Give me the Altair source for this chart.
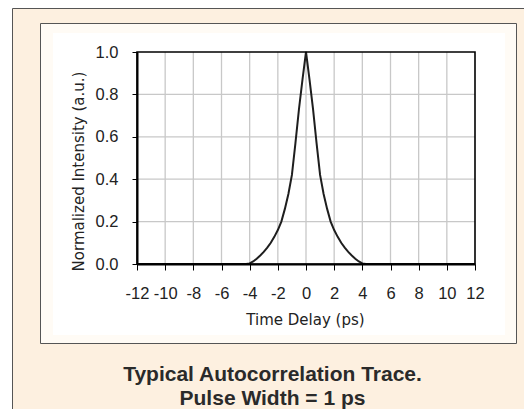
import altair as alt
import pandas as pd

# ---- data ----
TIME_PS = [-12, -4.25, -4.0, -3.75, -3.5, -3.25, -3.0, -2.75, -2.5, -2.25, -2.0, -1.75, -1.5,
           -1.25, -1.0, -0.75, -0.5, -0.25, 0.0, 0.25, 0.5, 0.75, 1.0, 1.25, 1.5,
           1.75, 2.0, 2.25, 2.5, 2.75, 3.0, 3.25, 3.5, 3.75, 4.0, 4.25, 12]
INTENSITY = [0.0, 0.0, 0.003, 0.012, 0.025, 0.040, 0.057, 0.077, 0.10, 0.128, 0.16, 0.20, 0.26,
             0.33, 0.42, 0.57, 0.73, 0.87, 1.0, 0.87, 0.73, 0.57, 0.42, 0.33, 0.26,
             0.20, 0.16, 0.128, 0.10, 0.077, 0.057, 0.040, 0.025, 0.012, 0.003, 0.0, 0.0]
X_TICKS = [-12, -10, -8, -6, -4, -2, 0, 2, 4, 6, 8, 10, 12]
Y_TICKS = [0.0, 0.2, 0.4, 0.6, 0.8, 1.0]
X_GRID = [-10, -8, -6, -4, -2, 0, 2, 4, 6, 8, 10]
Y_GRID = [0.2, 0.4, 0.6, 0.8]
X_TITLE = "Time Delay (ps)"
Y_TITLE = "Normalized Intensity (a.u.)"
TITLE_LINE_1 = "Typical Autocorrelation Trace."
TITLE_LINE_2 = "Pulse Width = 1 ps"

W, H = 338, 212
LABEL_FONT = "Liberation Sans"
TITLE_FONT = "DejaVu Sans"

curve_df = pd.DataFrame({"t": TIME_PS, "i": INTENSITY})
xgrid_df = pd.DataFrame({"t": X_GRID})
ygrid_df = pd.DataFrame({"i": Y_GRID})
one = alt.Data(values=[{"k": 1}])

xscale = alt.Scale(domain=[-12, 12], nice=False, zero=False)
yscale = alt.Scale(domain=[0, 1], nice=False)

x_axis = alt.Axis(
    values=X_TICKS, grid=False, zindex=1,
    labelExpr="datum.value < 0 ? '-' + abs(datum.value) : '' + datum.value",
    labelFont=LABEL_FONT, labelFontSize=16.5, labelColor="#222222", labelPadding=15,
    tickSize=6,
    title=X_TITLE, titleX=168, titleY=60, titleBaseline="alphabetic", titleAlign="center",
)
y_axis = alt.Axis(
    values=Y_TICKS, format=".1f", grid=False, zindex=1,
    labelFont=LABEL_FONT, labelFontSize=16.5, labelColor="#222222", labelPadding=14,
    tickSize=5,
    title=Y_TITLE, titleX=-54, titleY=119, titleAngle=270,
    titleBaseline="alphabetic", titleAlign="center",
)

bg_outer = alt.Chart(one).mark_rect(
    fill="#fdf0e0", stroke="#555555", strokeWidth=1, clip=False
).encode(x=alt.value(-124.5), x2=alt.value(700), y=alt.value(-43.5), y2=alt.value(600))

bg_inner = alt.Chart(one).mark_rect(
    fill="#fffbf5", stroke="#555555", strokeWidth=1, clip=False
).encode(x=alt.value(-96.5), x2=alt.value(379.5), y=alt.value(-28.5), y2=alt.value(291.5))

bg_white = alt.Chart(one).mark_rect(fill="#ffffff", clip=False).encode(
    x=alt.value(-84), x2=alt.value(368), y=alt.value(-19), y2=alt.value(283)
)

vgrid = alt.Chart(xgrid_df).mark_rule(color="#c8c8c8", strokeWidth=1.3).encode(
    x=alt.X("t:Q", scale=xscale, axis=x_axis), y=alt.value(0), y2=alt.value(H)
)
hgrid = alt.Chart(ygrid_df).mark_rule(color="#c8c8c8", strokeWidth=1.3).encode(
    y=alt.Y("i:Q", scale=yscale, axis=y_axis), x=alt.value(0), x2=alt.value(W)
)

curve = alt.Chart(curve_df).mark_line(color="#1e1e1e", strokeWidth=2, clip=False).encode(
    x=alt.X("t:Q", scale=xscale, axis=x_axis),
    y=alt.Y("i:Q", scale=yscale, axis=y_axis),
    order=alt.Order("t:Q"),
)

frame = alt.Chart(one).mark_rect(
    fill="transparent", stroke="#000000", strokeWidth=1.6, clip=False
).encode(x=alt.value(0), x2=alt.value(W), y=alt.value(0), y2=alt.value(H))

title1 = alt.Chart(alt.Data(values=[{"txt": TITLE_LINE_1}])).mark_text(
    font=LABEL_FONT, fontSize=21, fontWeight="bold", color="#2a2a2a",
    align="center", baseline="alphabetic", clip=False
).encode(text="txt:N", x=alt.value(135.5), y=alt.value(328.5))

title2 = alt.Chart(alt.Data(values=[{"txt": TITLE_LINE_2}])).mark_text(
    font=LABEL_FONT, fontSize=21, fontWeight="bold", color="#2a2a2a",
    align="center", baseline="alphabetic", clip=False
).encode(text="txt:N", x=alt.value(135.5), y=alt.value(352.5))

chart = alt.layer(
    bg_outer, bg_inner, bg_white, vgrid, hgrid, curve, frame, title1, title2
).properties(
    width=W, height=H,
    autosize=alt.AutoSizeParams(type="none"),
    padding={"left": 129, "top": 44, "right": 49, "bottom": 145},
    background="#ffffff",
).configure_view(
    strokeWidth=0
).configure_axis(
    labelFont=LABEL_FONT, labelFontSize=16.5, labelColor="#222222",
    domainColor="#000000", domainWidth=2, tickColor="#000000", tickWidth=1,
    titleFont=TITLE_FONT, titleFontSize=15, titleFontWeight="normal", titleColor="#222222",
    labelFlush=False, labelOverlap=False,
)

chart.save("out.html", embed_options={"renderer": "svg", "actions": False})
